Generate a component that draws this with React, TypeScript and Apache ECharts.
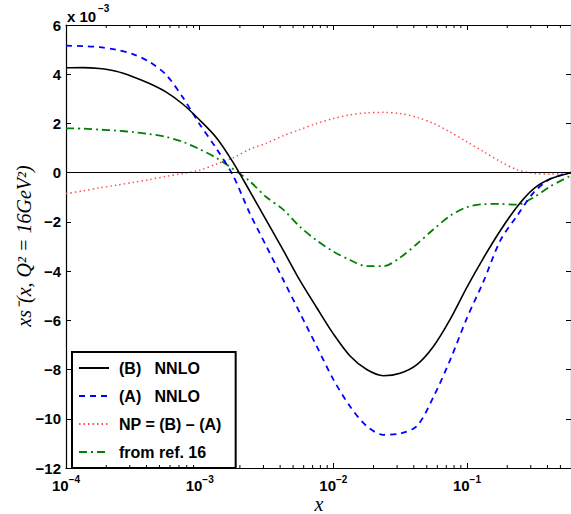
import React, { useEffect, useRef } from 'react';
import * as echarts from 'echarts';

// x positions (log scale)
const xValues = [1e-4, 1.334e-4, 1.778e-4, 2.371e-4, 3.162e-4, 4.217e-4, 5.623e-4, 7.499e-4, 1e-3, 1.334e-3, 1.778e-3, 2.371e-3, 3.162e-3, 4.217e-3, 5.623e-3, 7.499e-3, 0.01, 0.01334, 0.01778, 0.02371, 0.03162, 0.04217, 0.05623, 0.07499, 0.1, 0.1334, 0.1778, 0.2371, 0.3162, 0.4217, 0.6];

// values in units of 1e-3
const nnloB = [4.26, 4.27, 4.23, 4.12, 3.9, 3.62, 3.27, 2.78, 2.14, 1.42, 0.42, -0.75, -1.95, -3.15, -4.38, -5.48, -6.55, -7.45, -8.0, -8.25, -8.15, -7.8, -7.05, -5.95, -4.65, -3.45, -2.35, -1.38, -0.65, -0.25, 0];
const nnloA = [5.16, 5.14, 5.1, 5.0, 4.82, 4.5, 3.97, 3.05, 1.97, 0.98, -0.12, -1.65, -3.0, -4.35, -5.7, -7.05, -8.4, -9.5, -10.3, -10.65, -10.6, -10.3, -9.1, -7.6, -5.9, -4.4, -2.75, -1.75, -0.8, -0.25, 0];
const npDiff = [-0.85, -0.74, -0.62, -0.51, -0.4, -0.28, -0.15, -0.03, 0.1, 0.35, 0.6, 0.95, 1.2, 1.5, 1.75, 2.0, 2.2, 2.35, 2.43, 2.45, 2.4, 2.25, 2.0, 1.65, 1.25, 0.85, 0.45, 0.12, -0.03, -0.06, 0];
const ref16 = [1.8, 1.79, 1.75, 1.71, 1.65, 1.57, 1.45, 1.25, 0.95, 0.6, 0.15, -0.35, -1.0, -1.5, -2.2, -2.75, -3.2, -3.55, -3.8, -3.8, -3.45, -2.9, -2.3, -1.75, -1.4, -1.28, -1.27, -1.3, -1.0, -0.55, -0.12];

const seriesNames = ['(B)   NNLO', '(A)   NNLO', 'NP = (B) \u2013 (A)', 'from ref. 16'];
const yMin = -12;
const yMax = 6;
const yStep = 2;
const xMin = 1e-4;
const xMax = 0.6;
const minorMultipliers = [2, 3, 4, 5, 6, 7, 8, 9];
const decades = [1e-4, 1e-3, 1e-2, 1e-1];

const FONT = 'Liberation Sans';

export default function App() {
  const ref = useRef<HTMLDivElement>(null);
  useEffect(() => {
    if (!ref.current) return;
    const chart = echarts.init(ref.current, undefined, { renderer: 'svg' });
    const minorTicks: number[][] = [];
    decades.forEach((d) => minorMultipliers.forEach((m) => {
      const v = d * m;
      if (v < xMax) minorTicks.push([v, 0]);
    }));
    const toPairs = (arr: number[]) => xValues.map((x, i) => [x, arr[i]]);
    const fmtY = (v: number) => (v < 0 ? '\u2212' + Math.abs(v) : String(v));
    const fmtX = (v: number) => {
      const e = Math.round(Math.log10(v));
      if (Math.abs(Math.log10(v) - e) > 0.01) return '';
      return `{b|10}{s|${e < 0 ? '\u2212' : ''}${Math.abs(e)}}`;
    };
    const tickStyle = { show: true, inside: true, length: 5, lineStyle: { color: '#000', width: 1 } };
    const axisLine = { show: true, onZero: false, lineStyle: { color: '#000', width: 1.2 } };
    chart.setOption({
      animation: false,
      backgroundColor: '#fff',
      grid: { left: 66, top: 25, width: 506, height: 443, containLabel: false },
      xAxis: [
        {
          type: 'log', logBase: 10, min: xMin, max: xMax, position: 'bottom',
          axisLine, axisTick: tickStyle, splitLine: { show: false },
          axisLabel: {
            formatter: fmtX, margin: 6, showMaxLabel: false,
            rich: {
              b: { fontSize: 15, fontWeight: 'bold', fontFamily: FONT, color: '#000' },
              s: { fontSize: 10, fontWeight: 'bold', fontFamily: FONT, color: '#000', padding: [0, 0, 12, 0] },
            },
          },
        },
        {
          type: 'log', logBase: 10, min: xMin, max: xMax, position: 'top',
          axisLine, axisTick: tickStyle, splitLine: { show: false }, axisLabel: { show: false },
        },
      ],
      yAxis: [
        {
          type: 'value', min: yMin, max: yMax, interval: yStep, position: 'left',
          axisLine, axisTick: tickStyle, splitLine: { show: false },
          axisLabel: { formatter: fmtY, margin: 5, fontSize: 15, fontWeight: 'bold', fontFamily: FONT, color: '#000' },
        },
        {
          type: 'value', min: yMin, max: yMax, interval: yStep, position: 'right',
          axisLine, axisTick: tickStyle, splitLine: { show: false }, axisLabel: { show: false },
        },
      ],
      legend: {
        orient: 'vertical', left: 72, top: 352,
        itemWidth: 30, itemHeight: 14, itemGap: 12,
        padding: [8, 14, 8, 6],
        borderColor: '#000', borderWidth: 2, backgroundColor: '#fff',
        itemStyle: { opacity: 0 },
        textStyle: { fontSize: 16, fontWeight: 'bold', fontFamily: FONT, color: '#000', padding: [0, 0, 0, 5] },
        data: seriesNames,
        selectedMode: false,
      },
      series: [
        {
          name: seriesNames[0], type: 'line', data: toPairs(nnloB), symbol: 'none', smooth: 0.3,
          lineStyle: { color: '#000', width: 1.6, type: 'solid' }, itemStyle: { color: '#000' },
          markLine: {
            silent: true, symbol: ['none', 'none'], label: { show: false },
            lineStyle: { color: '#000', width: 1, type: 'solid' },
            data: [{ yAxis: 0 }],
          },
          z: 5,
        },
        {
          name: seriesNames[1], type: 'line', data: toPairs(nnloA), symbol: 'none', smooth: 0.3,
          lineStyle: { color: '#0000ff', width: 1.8, type: [6, 5] }, itemStyle: { color: '#0000ff' }, z: 4,
        },
        {
          name: seriesNames[2], type: 'line', data: toPairs(npDiff), symbol: 'none', smooth: 0.3,
          lineStyle: { color: '#ff5050', width: 1.5, type: [1.5, 3] }, itemStyle: { color: '#ff5050' }, z: 3,
        },
        {
          name: seriesNames[3], type: 'line', data: toPairs(ref16), symbol: 'none', smooth: 0.3,
          lineStyle: { color: '#008000', width: 1.8, type: [8, 4, 2, 4] }, itemStyle: { color: '#008000' }, z: 3,
        },
        {
          type: 'custom', name: 'minorTicks', data: minorTicks, silent: true, xAxisIndex: 0, yAxisIndex: 0,
          encode: { x: 0, y: 1 }, clip: false, z: 10,
          renderItem: (params: any, api: any) => {
            const cs = params.coordSys;
            const x = api.coord([api.value(0), 0])[0];
            const bottom = cs.y + cs.height;
            return {
              type: 'group',
              children: [
                { type: 'line', shape: { x1: x, y1: bottom, x2: x, y2: bottom - 3 }, style: { stroke: '#000', lineWidth: 1 } },
                { type: 'line', shape: { x1: x, y1: cs.y, x2: x, y2: cs.y + 3 }, style: { stroke: '#000', lineWidth: 1 } },
              ],
            };
          },
        },
      ],
      graphic: [
        { type: 'text', x: 67, y: 16, style: { text: 'x 10', font: `bold 15px "${FONT}"`, fill: '#000', textVerticalAlign: 'middle' } },
        { type: 'text', x: 98, y: 8, style: { text: '\u22123', font: `bold 10px "${FONT}"`, fill: '#000', textVerticalAlign: 'middle' } },
        {
          type: 'text', x: 24, y: 246, rotation: Math.PI / 2,
          style: { text: 'xs\u207b(x, Q\u00b2 = 16GeV\u00b2)', font: `italic 20px "Liberation Serif"`, fill: '#000', textAlign: 'center', textVerticalAlign: 'middle' },
        },
        {
          type: 'text', x: 319, y: 504,
          style: { text: 'x', font: `italic 20px "Liberation Serif"`, fill: '#000', textAlign: 'center', textVerticalAlign: 'middle' },
        },
      ],
    });
    return () => chart.dispose();
  }, []);
  return <div ref={ref} style={{ position: 'fixed', left: 0, top: 0, width: 571, height: 514 }} />;
}
